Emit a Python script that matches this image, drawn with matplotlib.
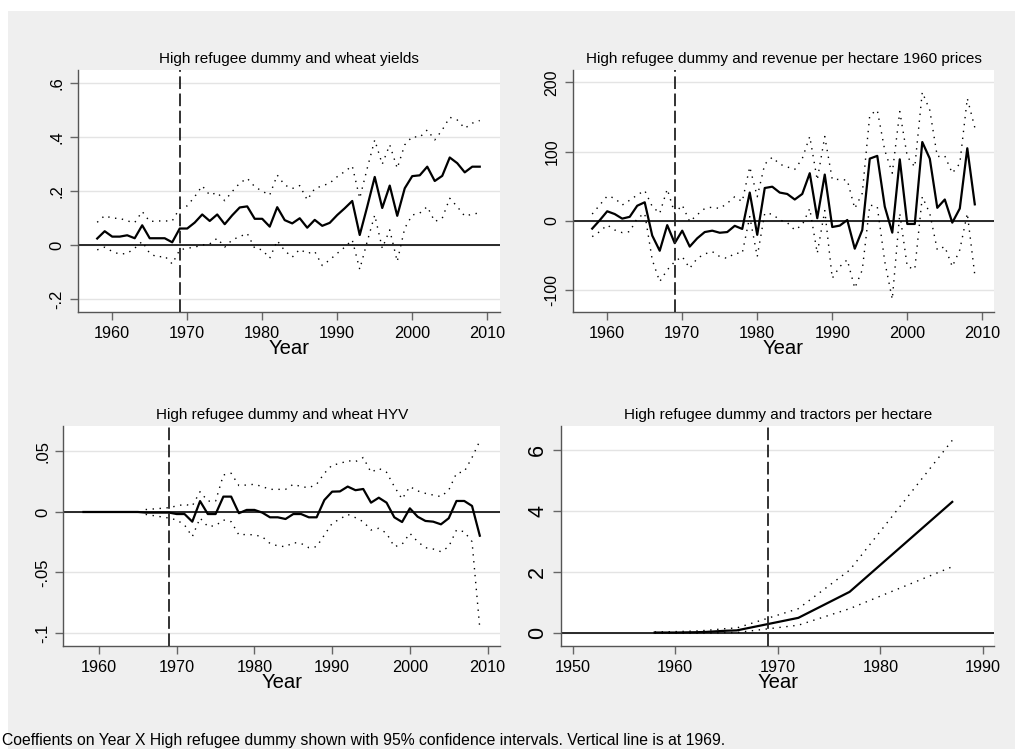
import numpy as np
import matplotlib
matplotlib.use("Agg")
import matplotlib.pyplot as plt
from matplotlib.patches import Rectangle

plt.rcParams['font.family'] = ['Liberation Sans', 'DejaVu Sans']

# ---- wheat yields ----
years_wy = list(range(1958, 2010))
coef_wy = [0.025, 0.052, 0.032, 0.032, 0.037, 0.026, 0.074, 0.026, 0.026, 0.026,
           0.011, 0.062, 0.062, 0.084, 0.114, 0.090, 0.114, 0.078, 0.111, 0.140,
           0.144, 0.098, 0.098, 0.069, 0.141, 0.093, 0.081, 0.100, 0.065, 0.094,
           0.072, 0.083, 0.112, 0.137, 0.164, 0.038, 0.143, 0.253, 0.138, 0.221,
           0.109, 0.211, 0.256, 0.259, 0.291, 0.238, 0.257, 0.325, 0.304, 0.270,
           0.291, 0.291]
hi_wy = [0.085, 0.110, 0.100, 0.100, 0.090, 0.084, 0.125, 0.088, 0.090, 0.090,
         0.090, 0.137, 0.146, 0.180, 0.220, 0.186, 0.195, 0.165, 0.199, 0.230,
         0.248, 0.217, 0.200, 0.186, 0.260, 0.223, 0.210, 0.221, 0.168, 0.210,
         0.220, 0.230, 0.254, 0.273, 0.294, 0.174, 0.285, 0.390, 0.300, 0.372,
         0.285, 0.372, 0.402, 0.400, 0.427, 0.390, 0.427, 0.474, 0.464, 0.433,
         0.452, 0.462]
lo_wy = [-0.017, -0.007, -0.023, -0.033, -0.030, -0.011, 0.014, -0.030, -0.044, -0.040,
         -0.069, -0.017, -0.011, -0.007, 0.001, 0.005, 0.026, -0.007, 0.020, 0.032,
         0.044, -0.011, -0.017, -0.048, 0.017, -0.020, -0.044, -0.015, -0.030, -0.023,
         -0.075, -0.054, -0.030, -0.007, 0.020, -0.089, 0.014, 0.112, -0.011, 0.057,
         -0.060, 0.063, 0.112, 0.119, 0.143, 0.088, 0.100, 0.174, 0.143, 0.108,
         0.115, 0.120]

# ---- revenue per hectare, 1960 prices ----
years_rv = list(range(1958, 2010))
coef_rv = [-11, 1, 14, 10, 3.4, 6, 22, 27, -21, -43,
           -6, -32, -14, -37, -25, -16, -14, -17, -16, -7,
           -11.5, 41, -20, 47.6, 49.5, 41, 39, 31, 39, 69,
           4, 67, -8.7, -6.7, 1.4, -40, -13, 90, 94, 20.7,
           -16.8, 89, -4.3, -4.3, 114, 90, 19, 31, -2.4, 18,
           105, 24]
hi_rv = [10, 23, 36, 33, 23, 30, 37.5, 44, 21, 11,
         46, 11, 23, -1, 9, 18, 20, 18, 25.5, 35,
         28, 78, 35, 82, 92, 82, 78, 74.5, 90, 122,
         59, 122, 60, 60, 59, 18, 40, 153, 160, 102,
         69, 158, 93, 78, 186, 160, 93, 94, 69, 83,
         177, 135]
lo_rv = [-22.6, -15.4, -5.8, -13, -16.8, -15.4, 3.8, 11, -56, -87.5,
         -70.7, -58.7, -51.4, -68.3, -54, -47.6, -44.2, -51.4, -54, -46.6,
         -46.6, 6.3, -51.4, 11, 10, 1.4, -2.4, -13, -5.8, 18,
         -46.6, 15, -82.7, -65.9, -56, -97, -70.7, 23, 20.7, -58.7,
         -113, 11, -65.9, -69.7, 35, 11, -41.8, -37, -65.9, -41.8,
         11, -78]

# ---- wheat HYV ----
years_hyv = list(range(1958, 2010))
coef_hyv = [0, 0, 0, 0, 0, 0, 0, 0, -0.0005, -0.0005,
            -0.0005, -0.0005, -0.0017, -0.0017, -0.008, 0.009, -0.0017, -0.0017, 0.0127, 0.0127,
            -0.001, 0.0017, 0.0017, -0.0005, -0.0044, -0.0044, -0.0058, -0.0017, -0.0017, -0.0044,
            -0.0044, 0.0099, 0.0168, 0.017, 0.021, 0.018, 0.019, 0.0077, 0.0118, 0.0077,
            -0.0044, -0.0083, 0.003, -0.0039, -0.0074, -0.008, -0.0102, -0.0052, 0.0091, 0.0091,
            0.005, -0.0196]
years_hyv_ci = list(range(1966, 2010))
hi_hyv = [0.002, 0.0025, 0.003, 0.0036, 0.005, 0.0063, 0.005, 0.0168, 0.009, 0.009,
          0.0306, 0.032, 0.0218, 0.0223, 0.0229, 0.021, 0.0187, 0.0187, 0.0187, 0.0229,
          0.021, 0.020, 0.0229, 0.032, 0.0388, 0.040, 0.0424, 0.0416, 0.045, 0.0328,
          0.036, 0.0328, 0.021, 0.0107, 0.021, 0.0174, 0.0154, 0.014, 0.0127, 0.018,
          0.032, 0.0333, 0.045, 0.0587]
lo_hyv = [-0.002, -0.003, -0.004, -0.005, -0.0066, -0.0107, -0.0204, -0.005, -0.012, -0.0113,
          -0.0066, -0.008, -0.019, -0.0185, -0.019, -0.0204, -0.026, -0.028, -0.0287, -0.0253,
          -0.026, -0.0295, -0.0287, -0.019, -0.0094, -0.0058, -0.002, -0.0047, -0.008, -0.0149,
          -0.0135, -0.0176, -0.0287, -0.0267, -0.0176, -0.0245, -0.0295, -0.0306, -0.0328, -0.0287,
          -0.0149, -0.0163, -0.0245, -0.096]

# ---- tractors per hectare ----
years_tr = [1958, 1959, 1960, 1961, 1962, 1963, 1964, 1965, 1966, 1972, 1977, 1987]
coef_tr = [0.02, 0.02, 0.02, 0.025, 0.03, 0.04, 0.06, 0.08, 0.09, 0.5, 1.35, 4.29]
hi_tr = [0.04, 0.045, 0.05, 0.06, 0.07, 0.09, 0.12, 0.15, 0.17, 0.8, 2.06, 6.3]
lo_tr = [0.0, 0.0, 0.0, 0.0, 0.0, 0.005, 0.01, 0.02, 0.02, 0.26, 0.8, 2.17]

W, H = 1015, 749
BG = '#efefef'

fig = plt.figure(figsize=(W / 100, H / 100), dpi=100)
fig.set_facecolor('white')
# grey graph region, leaving a thin white margin at the top and left
fig.patches.append(Rectangle((8 / W, 0), 1 - 8 / W, 1 - 11 / H,
                             transform=fig.transFigure, facecolor=BG,
                             edgecolor='none', zorder=-10))


def px_axes(left, top, right, bottom):
    return fig.add_axes([left / W, 1 - bottom / H, (right - left) / W, (bottom - top) / H])


def panel(ax, title, years, coef, ci_years, hi, lo, xlim, xticks, ylim, yticks, ylabels, ysize=12):
    ax.set_facecolor('white')
    for y in yticks:
        ax.axhline(y, color='#e4e4e4', lw=1.0, zorder=1)
    ax.axhline(0, color='#1a1a1a', lw=1.3, zorder=2)
    ax.plot(ci_years, hi, color='black', lw=1.0, ls=(0, (1, 4)), zorder=3)
    ax.plot(ci_years, lo, color='black', lw=1.0, ls=(0, (1, 4)), zorder=3)
    ax.plot(years, coef, color='black', lw=1.6, zorder=4)
    ax.axvline(1969, color='#222222', lw=1.3, ls=(0, (7, 2.5)), zorder=5)

    ax.set_xlim(*xlim)
    ax.set_ylim(*ylim)
    ax.set_xticks(xticks)
    ax.set_yticks(yticks)
    ax.set_yticklabels(ylabels, rotation=90, va='center')
    ax.tick_params(axis='x', labelsize=11.7, length=5.5, width=1, color='#666666', pad=4.5)
    ax.tick_params(axis='y', labelsize=ysize, length=5.5, width=1, color='#666666', pad=4)
    for s in ['top', 'right']:
        ax.spines[s].set_visible(False)
    for s in ['left', 'bottom']:
        ax.spines[s].set_color('#555555')
        ax.spines[s].set_linewidth(1.0)
    ax.set_xlabel('Year', fontsize=14.6, labelpad=-1)
    ax.set_title(title, fontsize=11, pad=5)


ax1 = px_axes(77.7, 70, 500, 311.7)
panel(ax1, 'High refugee dummy and wheat yields', years_wy, coef_wy, years_wy, hi_wy, lo_wy,
      (1955.4, 2011.7), [1960, 1970, 1980, 1990, 2000, 2010],
      (-0.246, 0.649), [-0.2, 0, 0.2, 0.4, 0.6], ['-.2', '0', '.2', '.4', '.6'])

ax2 = px_axes(572.7, 70, 994.3, 311.7)
panel(ax2, 'High refugee dummy and revenue per hectare 1960 prices', years_rv, coef_rv, years_rv,
      hi_rv, lo_rv, (1955.4, 2011.6), [1960, 1970, 1980, 1990, 2000, 2010],
      (-131, 218), [-100, 0, 100, 200], ['-100', '0', '100', '200'], ysize=11.5)

ax3 = px_axes(63.3, 425.7, 500, 645.7)
panel(ax3, 'High refugee dummy and wheat HYV', years_hyv, coef_hyv, years_hyv_ci, hi_hyv, lo_hyv,
      (1955.4, 2011.6), [1960, 1970, 1980, 1990, 2000, 2010],
      (-0.1105, 0.0713), [-0.1, -0.05, 0, 0.05], ['-.1', '-.05', '0', '.05'])

ax4 = px_axes(561.3, 425.7, 994.3, 645.7)
panel(ax4, 'High refugee dummy and tractors per hectare', years_tr, coef_tr, years_tr, hi_tr, lo_tr,
      (1948.9, 1991.1), [1950, 1960, 1970, 1980, 1990],
      (-0.41, 6.78), [0, 2, 4, 6], ['0', '2', '4', '6'], ysize=15.5)

fig.text(2 / W, 1 - 733 / H,
         'Coeffients on Year X High refugee dummy shown with 95% confidence intervals. '
         'Vertical line is at 1969.',
         fontsize=11.35, va='top', ha='left')

fig.savefig('out.png', dpi=100, facecolor=fig.get_facecolor())
